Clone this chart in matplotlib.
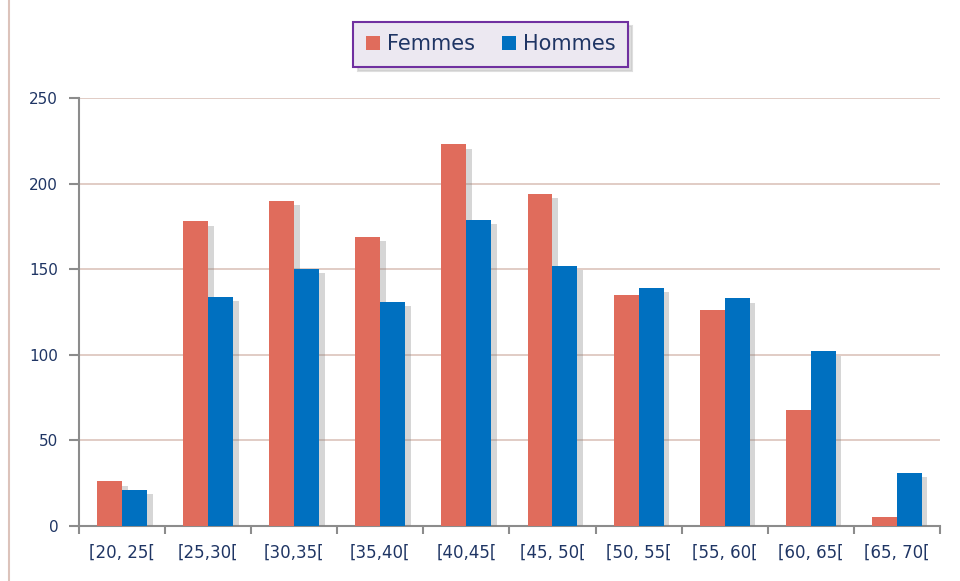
import matplotlib
matplotlib.use("Agg")
import matplotlib.pyplot as plt
import matplotlib.patheffects as pe
import numpy as np
from matplotlib.patches import Rectangle

categories = ["[20, 25[", "[25,30[", "[30,35[", "[35,40[", "[40,45[",
              "[45, 50[", "[50, 55[", "[55, 60[", "[60, 65[", "[65, 70["]
femmes = [26, 178, 190, 169, 223, 194, 135, 126, 68, 5]
hommes = [21, 134, 150, 131, 179, 152, 139, 133, 102, 31]
yticks = [0, 50, 100, 150, 200, 250]

c_f = "#e06c5c"
c_h = "#0070c0"
txt = "#1f3564"
grid_c = "#dcc3bb"
axis_c = "#8c8c8c"

fig = plt.figure(figsize=(9.6, 5.81), dpi=100)
fig.patch.set_facecolor("white")
fig.patches.append(Rectangle((0.009, -0.01), 1.2, 1.2, transform=fig.transFigure,
                             fill=False, edgecolor=grid_c, linewidth=1.5))

ax = fig.add_axes([0.0823, 0.0947, 0.8967, 0.7363])
x = np.arange(len(categories))
w = 0.29
shadow = [pe.SimplePatchShadow(offset=(4, -3), shadow_rgbFace="#808080", alpha=0.32), pe.Normal()]
b1 = ax.bar(x - w / 2, femmes, w, color=c_f, label="Femmes", zorder=3)
b2 = ax.bar(x + w / 2, hommes, w, color=c_h, label="Hommes", zorder=3)
for b in list(b1) + list(b2):
    b.set_path_effects(shadow)

ax.set_xlim(-0.5, len(categories) - 0.5)
ax.set_ylim(0, 250)
ax.set_yticks(yticks)
ax.yaxis.grid(True, color=grid_c, linewidth=1.2, zorder=0)
ax.set_axisbelow(True)
for s in ["top", "right"]:
    ax.spines[s].set_visible(False)
ax.spines["left"].set_color(axis_c)
ax.spines["bottom"].set_color(axis_c)
ax.spines["left"].set_linewidth(1.5)
ax.spines["bottom"].set_linewidth(1.5)

ax.set_xticks(x)
ax.set_xticklabels(categories)
ax.set_xticks(np.arange(len(categories) + 1) - 0.5, minor=True)
ax.tick_params(axis="x", which="major", length=0, pad=13, labelsize=12, labelcolor=txt)
ax.tick_params(axis="x", which="minor", length=6, width=1.5, color=axis_c)
ax.tick_params(axis="y", length=7, width=1.5, color=axis_c, pad=8, labelsize=11, labelcolor=txt)

leg = fig.legend(handles=[b1, b2], labels=["Femmes", "Hommes"], loc="center",
                 bbox_to_anchor=(0.511, 0.924), ncol=2, frameon=True, fancybox=False,
                 fontsize=15, handlelength=0.7, handleheight=0.7, handletextpad=0.3,
                 columnspacing=1.3, borderpad=0.6,
                 shadow={"color": "#c8c8c8", "alpha": 0.6, "ox": 3, "oy": -3})
for t in leg.get_texts():
    t.set_color(txt)
fr = leg.get_frame()
fr.set_edgecolor("#7030a0")
fr.set_linewidth(1.5)
fr.set_facecolor("#ece8f1")
fr.set_alpha(1)
for h in leg.legend_handles:
    h.set_path_effects([])

fig.savefig("out.png", dpi=100, facecolor="white")
